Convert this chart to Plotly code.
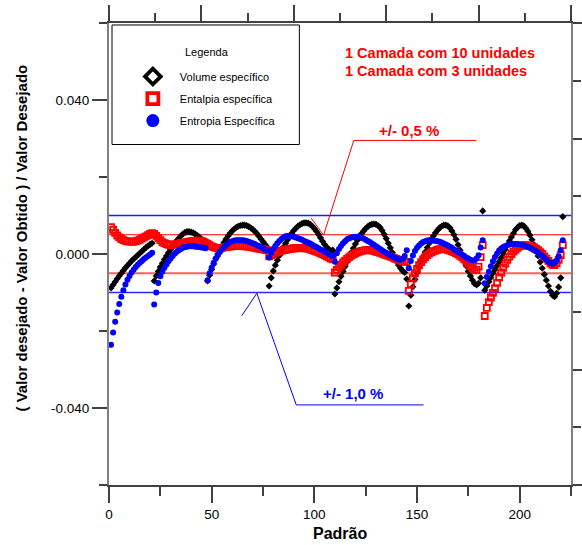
import plotly.graph_objects as go

FONT = "Liberation Sans, Arial, sans-serif"

# ---------------- data ----------------
volume = [
    # 1-21
    -0.0088, -0.0080, -0.0072, -0.0064, -0.0057, -0.0050, -0.0043, -0.0036, -0.0030, -0.0024,
    -0.0018, -0.0013, -0.0008, -0.0003, 0.0002, 0.0007, 0.0012, 0.0017, 0.0021, 0.0025, 0.0028,
    # 22-47
    -0.0070, -0.0057, -0.0045, -0.0034, -0.0024, -0.0014, -0.0005, 0.0004, 0.0012, 0.0020,
    0.0028, 0.0035, 0.0041, 0.0047, 0.0052, 0.0056, 0.0058, 0.0058, 0.0057, 0.0055,
    0.0052, 0.0048, 0.0044, 0.0039, 0.0033, 0.0027,
    # 48-77
    -0.0070, -0.0055, -0.0040, -0.0026, -0.0012, 0.0000, 0.0010, 0.0020, 0.0030, 0.0039,
    0.0047, 0.0054, 0.0060, 0.0065, 0.0069, 0.0072, 0.0074, 0.0075, 0.0075, 0.0074,
    0.0071, 0.0068, 0.0064, 0.0059, 0.0053, 0.0046, 0.0039, 0.0032, 0.0025, 0.0018,
    # 78-109
    -0.0083, -0.0062, -0.0044, -0.0029, -0.0016, -0.0004, 0.0007, 0.0018, 0.0028, 0.0037,
    0.0046, 0.0054, 0.0061, 0.0067, 0.0072, 0.0076, 0.0079, 0.0081, 0.0081, 0.0080,
    0.0077, 0.0072, 0.0066, 0.0059, 0.0051, 0.0042, 0.0033, 0.0025, 0.0018, 0.0012,
    0.0009, 0.0010,
    # 110-145
    -0.0104, -0.0088, -0.0072, -0.0058, -0.0045, -0.0032, -0.0020, -0.0008, 0.0004, 0.0015,
    0.0026, 0.0036, 0.0045, 0.0053, 0.0060, 0.0066, 0.0071, 0.0075, 0.0077, 0.0078,
    0.0077, 0.0074, 0.0069, 0.0061, 0.0051, 0.0040, 0.0028, 0.0016, 0.0004, -0.0008,
    -0.0019, -0.0029, -0.0037, -0.0044, -0.0048, -0.0065,
    # 146-182
    -0.0135, -0.0107, -0.0085, -0.0066, -0.0049, -0.0034, -0.0020, -0.0007, 0.0005, 0.0017,
    0.0028, 0.0038, 0.0047, 0.0055, 0.0062, 0.0068, 0.0072, 0.0075, 0.0075, 0.0073,
    0.0068, 0.0060, 0.0050, 0.0038, 0.0024, 0.0010, -0.0004, -0.0018, -0.0031, -0.0045,
    -0.0057, -0.0068, -0.0077, -0.0080, -0.0076, -0.0062, 0.0112,
    # 183-221
    -0.0094, -0.0083, -0.0072, -0.0061, -0.0050, -0.0040, -0.0030, -0.0020, -0.0010, 0.0001,
    0.0012, 0.0023, 0.0034, 0.0044, 0.0054, 0.0063, 0.0069, 0.0074, 0.0075, 0.0073,
    0.0067, 0.0059, 0.0049, 0.0037, 0.0024, 0.0010, -0.0005, -0.0021, -0.0037, -0.0053,
    -0.0068, -0.0083, -0.0097, -0.0107, -0.0111, -0.0102, -0.0086, -0.0062, 0.0097,
]

entalpia = [
    # 1-21
    0.0070, 0.0063, 0.0055, 0.0048, 0.0043, 0.0039, 0.0036, 0.0034, 0.0033, 0.0032,
    0.0032, 0.0032, 0.0033, 0.0035, 0.0037, 0.0040, 0.0043, 0.0046, 0.0049, 0.0052, 0.0054,
    # 22-47
    0.0052, 0.0047, 0.0041, 0.0036, 0.0031, 0.0028, 0.0026, 0.0024, 0.0023, 0.0024,
    0.0025, 0.0026, 0.0027, 0.0028, 0.0029, 0.0030, 0.0031, 0.0032, 0.0033, 0.0034,
    0.0034, 0.0035, 0.0035, 0.0034, 0.0032, 0.0029,
    # 48-77
    0.0026, 0.0023, 0.0020, 0.0018, 0.0016, 0.0015, 0.0015, 0.0016, 0.0017, 0.0018,
    0.0019, 0.0020, 0.0020, 0.0021, 0.0021, 0.0021, 0.0021, 0.0021, 0.0020, 0.0020,
    0.0019, 0.0018, 0.0017, 0.0016, 0.0015, 0.0014, 0.0013, 0.0012, 0.0011, 0.0010,
    # 78-109
    -0.0006, -0.0003, 0.0000, 0.0003, 0.0005, 0.0007, 0.0009, 0.0010, 0.0011, 0.0012,
    0.0013, 0.0014, 0.0015, 0.0015, 0.0016, 0.0016, 0.0016, 0.0015, 0.0015, 0.0014,
    0.0012, 0.0010, 0.0008, 0.0006, 0.0004, 0.0002, 0.0000, -0.0003, -0.0006, -0.0009,
    -0.0012, -0.0014,
    # 110-145
    -0.0048, -0.0041, -0.0034, -0.0028, -0.0022, -0.0017, -0.0012, -0.0008, -0.0004, -0.0001,
    0.0002, 0.0004, 0.0006, 0.0008, 0.0009, 0.0010, 0.0010, 0.0010, 0.0009, 0.0008,
    0.0006, 0.0005, 0.0003, 0.0001, -0.0001, -0.0003, -0.0005, -0.0007, -0.0009, -0.0011,
    -0.0013, -0.0015, -0.0017, -0.0019, -0.0020, -0.0021,
    # 146-182
    -0.0096, -0.0078, -0.0063, -0.0050, -0.0039, -0.0029, -0.0021, -0.0014, -0.0008, -0.0003,
    0.0001, 0.0004, 0.0007, 0.0009, 0.0011, 0.0012, 0.0013, 0.0013, 0.0012, 0.0011,
    0.0009, 0.0007, 0.0005, 0.0002, -0.0001, -0.0005, -0.0009, -0.0014, -0.0019, -0.0025,
    -0.0031, -0.0037, -0.0042, -0.0041, -0.0033, -0.0008, 0.0023,
    # 183-221
    -0.0161, -0.0140, -0.0125, -0.0113, -0.0101, -0.0089, -0.0075, -0.0061, -0.0048, -0.0036,
    -0.0025, -0.0015, -0.0007, 0.0000, 0.0006, 0.0011, 0.0016, 0.0020, 0.0022, 0.0023,
    0.0023, 0.0022, 0.0021, 0.0019, 0.0017, 0.0014, 0.0010, 0.0005, 0.0000, -0.0006,
    -0.0012, -0.0018, -0.0024, -0.0028, -0.0029, -0.0024, -0.0015, -0.0003, 0.0023,
]

entropia = [
    # 1-21
    -0.0236, -0.0204, -0.0176, -0.0152, -0.0130, -0.0111, -0.0094, -0.0079, -0.0067, -0.0057,
    -0.0048, -0.0041, -0.0034, -0.0028, -0.0023, -0.0018, -0.0013, -0.0009, -0.0005, -0.0001, 0.0003,
    # 22-47
    -0.0131, -0.0100, -0.0075, -0.0058, -0.0046, -0.0036, -0.0027, -0.0019, -0.0012, -0.0005,
    0.0001, 0.0006, 0.0010, 0.0013, 0.0016, 0.0018, 0.0019, 0.0020, 0.0020, 0.0020,
    0.0019, 0.0019, 0.0018, 0.0017, 0.0016, 0.0015,
    # 48-77
    -0.0068, -0.0050, -0.0036, -0.0023, -0.0012, -0.0003, 0.0005, 0.0012, 0.0018, 0.0023,
    0.0027, 0.0031, 0.0033, 0.0035, 0.0036, 0.0036, 0.0036, 0.0036, 0.0035, 0.0034,
    0.0032, 0.0030, 0.0028, 0.0026, 0.0023, 0.0021, 0.0018, 0.0015, 0.0012, 0.0010,
    # 78-109
    -0.0009, 0.0003, 0.0013, 0.0021, 0.0028, 0.0034, 0.0039, 0.0043, 0.0046, 0.0047,
    0.0047, 0.0046, 0.0045, 0.0043, 0.0041, 0.0039, 0.0037, 0.0034, 0.0032, 0.0029,
    0.0027, 0.0024, 0.0021, 0.0018, 0.0015, 0.0012, 0.0009, 0.0006, 0.0003, 0.0000,
    -0.0003, -0.0005,
    # 110-145
    -0.0020, 0.0002, 0.0013, 0.0021, 0.0028, 0.0033, 0.0038, 0.0041, 0.0043, 0.0044,
    0.0045, 0.0045, 0.0044, 0.0042, 0.0040, 0.0037, 0.0034, 0.0031, 0.0027, 0.0024,
    0.0020, 0.0017, 0.0013, 0.0010, 0.0006, 0.0003, 0.0000, -0.0003, -0.0006, -0.0009,
    -0.0012, -0.0014, -0.0015, -0.0013, -0.0005, 0.0010,
    # 146-182
    -0.0037, -0.0018, -0.0004, 0.0008, 0.0016, 0.0022, 0.0027, 0.0031, 0.0033, 0.0035,
    0.0036, 0.0036, 0.0035, 0.0034, 0.0033, 0.0032, 0.0030, 0.0027, 0.0025, 0.0022,
    0.0019, 0.0016, 0.0012, 0.0009, 0.0005, 0.0002, -0.0002, -0.0005, -0.0009, -0.0012,
    -0.0015, -0.0017, -0.0017, -0.0012, -0.0003, 0.0017, 0.0036,
    # 183-221
    -0.0076, -0.0060, -0.0046, -0.0032, -0.0019, -0.0008, 0.0001, 0.0009, 0.0014, 0.0018,
    0.0021, 0.0023, 0.0025, 0.0026, 0.0026, 0.0026, 0.0026, 0.0025, 0.0024, 0.0022,
    0.0020, 0.0018, 0.0016, 0.0013, 0.0010, 0.0007, 0.0003, -0.0001, -0.0005, -0.0010,
    -0.0015, -0.0020, -0.0024, -0.0025, -0.0023, -0.0017, -0.0006, 0.0010, 0.0036,
]

padrao = list(range(1, len(volume) + 1))

series_names = ["Volume específico", "Entalpia específica", "Entropia Específica"]
x_range = [0, 225]
y_range = [-0.06, 0.06]
x_tick_vals = [0, 50, 100, 150, 200]
x_minor_vals = [25, 75, 125, 175, 225]
y_tick_vals = [-0.04, 0.0, 0.04]
y_tick_text = ["-0.040", "0.000", "0.040"]
y_minor_vals = [-0.06, -0.02, 0.02, 0.06]
tol_05 = 0.005
tol_10 = 0.010

# annotation pointer paths (data coordinates)
ptr05_x = [178.9, 119.2, 104.5, 98.5]
ptr05_y = [0.0295, 0.0295, 0.0049, 0.0093]
ptr10_x = [153.2, 91.2, 72.0, 64.7]
ptr10_y = [-0.0392, -0.0392, -0.0102, -0.0160]

# ---------------- figure ----------------
fig = go.Figure()

fig.add_trace(go.Scatter(
    x=padrao, y=volume, mode="markers", showlegend=False, hoverinfo="skip",
    marker=dict(symbol="diamond", size=5.5, color="black", line=dict(width=0))))
fig.add_trace(go.Scatter(
    x=padrao, y=entalpia, mode="markers", showlegend=False, hoverinfo="skip",
    marker=dict(symbol="square-open", size=6, color="#ff0000", line=dict(width=1.8))))
fig.add_trace(go.Scatter(
    x=padrao, y=entropia, mode="markers", showlegend=False, hoverinfo="skip",
    marker=dict(symbol="circle", size=6, color="#0000ff", line=dict(width=0))))

# legend-only entries (big symbols as in the original legend)
fig.add_trace(go.Scatter(
    x=[None], y=[None], mode="markers", name=series_names[0], legendgroup="a",
    marker=dict(symbol="diamond", size=12, color="white", line=dict(color="black", width=3.8))))
fig.add_trace(go.Scatter(
    x=[None], y=[None], mode="markers", name=series_names[1], legendgroup="b",
    marker=dict(symbol="square", size=11, color="white", line=dict(color="#ff0000", width=3.8))))
fig.add_trace(go.Scatter(
    x=[None], y=[None], mode="markers", name=series_names[2], legendgroup="c",
    marker=dict(symbol="circle", size=13, color="#0000ff", line=dict(width=0))))

# dummy trace to activate the top/right axes
fig.add_trace(go.Scatter(x=[None], y=[None], xaxis="x2", yaxis="y2",
                         showlegend=False, hoverinfo="skip"))

shapes = []
# tolerance lines
for val, col, w in [(tol_10, "#1a1aff", 1.5), (-tol_10, "#2a2aff", 1.4),
                    (tol_05, "#ff0000", 1.1), (-tol_05, "#ff6060", 1.8)]:
    shapes.append(dict(type="line", xref="paper", x0=0, x1=1, yref="y", y0=val, y1=val,
                       line=dict(color=col, width=w), layer="below"))

def path_of(xs, ys):
    return "M " + " L ".join(f"{a},{b}" for a, b in zip(xs, ys))

shapes.append(dict(type="path", xref="x", yref="y", path=path_of(ptr05_x, ptr05_y),
                   line=dict(color="#ff0000", width=1)))
shapes.append(dict(type="path", xref="x", yref="y", path=path_of(ptr10_x, ptr10_y),
                   line=dict(color="#0000ff", width=1)))
# legend frame
shapes.append(dict(type="rect", xref="paper", yref="paper",
                   x0=0.0065, x1=0.412, y0=0.737, y1=0.9957,
                   line=dict(color="black", width=1), fillcolor="rgba(0,0,0,0)"))

annotations = [
    dict(text="1 Camada com 10 unidades", x=114.1, y=0.0522, xref="x", yref="y",
         xanchor="left", yanchor="middle", showarrow=False,
         font=dict(family=FONT, size=14.5, color="#ff0000", weight="bold")),
    dict(text="1 Camada com 3 unidades", x=114.1, y=0.0475, xref="x", yref="y",
         xanchor="left", yanchor="middle", showarrow=False,
         font=dict(family=FONT, size=14.5, color="#ff0000", weight="bold")),
    dict(text="+/- 0,5 %", x=145.9, y=0.0322, xref="x", yref="y", showarrow=False,
         font=dict(family=FONT, size=15, color="#ff0000", weight="bold")),
    dict(text="+/- 1,0 %", x=118.8, y=-0.0362, xref="x", yref="y", showarrow=False,
         font=dict(family=FONT, size=15, color="#0000ff", weight="bold")),
    dict(text="Legenda", x=36.1, y=0.0524, xref="x", yref="y", xanchor="left",
         showarrow=False, font=dict(family=FONT, size=11, color="black")),
    dict(text="Padrão", x=0.5, y=-0.104, xref="paper", yref="paper", showarrow=False,
         yanchor="middle", font=dict(family=FONT, size=16, color="black", weight="bold")),
    dict(text="( Valor desejado - Valor Obtido ) / Valor Desejado", x=-0.189, y=0.535,
         xref="paper", yref="paper", showarrow=False, textangle=-90,
         xanchor="center", yanchor="middle",
         font=dict(family=FONT, size=15, color="black", weight="bold")),
]

axis_dark = "#404040"
axis_gray = "#808080"

fig.update_layout(
    width=582, height=545, autosize=False,
    margin=dict(l=109, r=11, t=23, b=60, autoexpand=False),
    paper_bgcolor="white", plot_bgcolor="white",
    font=dict(family=FONT, size=13, color="black"),
    shapes=shapes, annotations=annotations,
    showlegend=True,
    legend=dict(x=0.0365, y=0.9155, xanchor="left", yanchor="top",
                bgcolor="rgba(0,0,0,0)", borderwidth=0, itemwidth=44,
                font=dict(family=FONT, size=11, color="black"),
                tracegroupgap=3, itemclick=False, itemdoubleclick=False),
    xaxis=dict(range=x_range, tickmode="array", tickvals=x_tick_vals,
               ticks="outside", ticklen=16, tickwidth=1.5, tickcolor=axis_dark,
               showline=True, linecolor=axis_dark, linewidth=1.5,
               showgrid=False, zeroline=False,
               minor=dict(tickmode="array", tickvals=x_minor_vals, ticks="outside",
                          ticklen=9, tickwidth=1.5, tickcolor=axis_dark),
               tickfont=dict(family=FONT, size=13.5), fixedrange=True),
    yaxis=dict(range=y_range, tickmode="array", tickvals=y_tick_vals, ticktext=y_tick_text,
               ticks="outside", ticklen=15, tickwidth=1.5, tickcolor=axis_dark,
               showline=True, linecolor=axis_gray, linewidth=2,
               showgrid=False, zeroline=False,
               minor=dict(tickmode="array", tickvals=y_minor_vals, ticks="outside",
                          ticklen=8, tickwidth=1.5, tickcolor=axis_dark),
               tickfont=dict(family=FONT, size=13.5), fixedrange=True),
    xaxis2=dict(range=x_range, overlaying="x", side="top", anchor="y2",
                tickmode="linear", tick0=0, dtick=45, ticks="outside", ticklen=16,
                tickwidth=1.5, tickcolor=axis_dark, showticklabels=False,
                showline=True, linecolor=axis_dark, linewidth=1.5,
                showgrid=False, zeroline=False,
                minor=dict(tick0=0, dtick=22.5, ticks="outside", ticklen=8,
                           tickwidth=1.5, tickcolor=axis_dark),
                fixedrange=True),
    yaxis2=dict(range=y_range, overlaying="y", side="right", anchor="x2",
                tickmode="linear", tick0=0, dtick=0.03, ticks="outside", ticklen=12,
                tickwidth=1.5, tickcolor=axis_dark, showticklabels=False,
                showline=True, linecolor=axis_gray, linewidth=2,
                showgrid=False, zeroline=False,
                minor=dict(tick0=0, dtick=0.015, ticks="outside", ticklen=8,
                           tickwidth=1.5, tickcolor=axis_dark),
                fixedrange=True),
)

fig.write_html(
    "out.html",
    config={"responsive": False, "displayModeBar": False},
    post_script="document.body.style.margin='0';document.body.style.overflow='hidden';",
)
